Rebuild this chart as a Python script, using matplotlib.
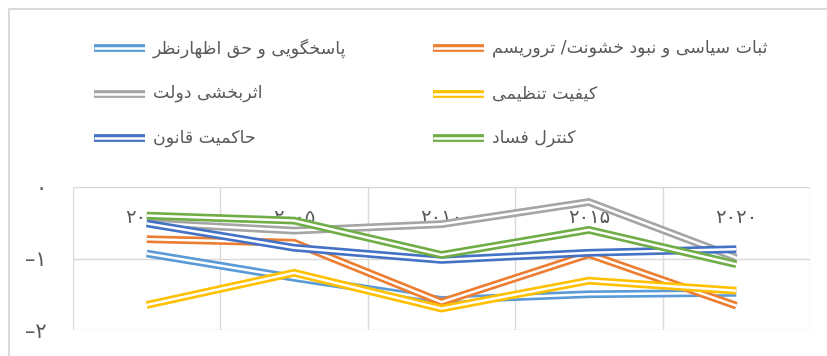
import matplotlib
matplotlib.use("Agg")
import matplotlib.pyplot as plt
import matplotlib.patheffects as pe
from matplotlib.lines import Line2D
from matplotlib.patches import Rectangle

# governance indicators, 2000-2020
years = [2000, 2005, 2010, 2015, 2020]

voice = [-0.93, -1.27, -1.58, -1.50, -1.48]          # پاسخگویی و حق اظهارنظر
stability = [-0.73, -0.78, -1.61, -0.94, -1.66]      # ثبات سیاسی ...
effectiveness = [-0.50, -0.61, -0.52, -0.21, -0.99]  # اثربخشی دولت
regulatory = [-1.65, -1.20, -1.70, -1.31, -1.45]     # کیفیت تنظیمی
rule_of_law = [-0.51, -0.85, -1.02, -0.92, -0.87]    # حاکمیت قانون
corruption = [-0.40, -0.47, -0.95, -0.60, -1.08]     # کنترل فساد

series_names = [
    "پاسخگویی و حق اظهارنظر",
    "اثربخشی دولت",
    "حاکمیت قانون",
    "ثبات سیاسی و نبود خشونت/ تروریسم",
    "کیفیت تنظیمی",
    "کنترل فساد",
]
series_values = [voice, effectiveness, rule_of_law, stability, regulatory, corruption]
series_colors = ["#5B9BD5", "#A5A5A5", "#4472C4", "#ED7D31", "#FFC000", "#70AD47"]
draw_order = [0, 3, 1, 4, 2, 5]

y_ticks = [0, -1, -2]

# --- minimal Persian shaping (matplotlib has no complex text layout) ---
DUAL = {
    'ب': 0xFE8F, 'ت': 0xFE95, 'ث': 0xFE99, 'ج': 0xFE9D, 'ح': 0xFEA1, 'خ': 0xFEA5,
    'س': 0xFEB1, 'ش': 0xFEB5, 'ص': 0xFEB9, 'ض': 0xFEBD, 'ط': 0xFEC1, 'ظ': 0xFEC5,
    'ع': 0xFEC9, 'غ': 0xFECD, 'ف': 0xFED1, 'ق': 0xFED5, 'ل': 0xFEDD, 'م': 0xFEE1,
    'ن': 0xFEE5, 'ه': 0xFEE9,
    'پ': 0xFB56, 'چ': 0xFB7A, 'ک': 0xFB8E, 'گ': 0xFB92, 'ی': 0xFBFC,
}
RIGHT = {'ا': 0xFE8D, 'آ': 0xFE81, 'د': 0xFEA9, 'ذ': 0xFEAB, 'ر': 0xFEAD,
         'ز': 0xFEAF, 'و': 0xFEED, 'ژ': 0xFB8A}


def shape(s):
    out = []
    for i, c in enumerate(s):
        prev = s[i - 1] if i > 0 else ''
        nxt = s[i + 1] if i + 1 < len(s) else ''
        joins_prev = prev in DUAL and (c in DUAL or c in RIGHT)
        if c in DUAL:
            joins_next = nxt in DUAL or nxt in RIGHT
            if joins_prev and joins_next:
                form = 3
            elif joins_prev:
                form = 1
            elif joins_next:
                form = 2
            else:
                form = 0
            out.append(chr(DUAL[c] + form))
        elif c in RIGHT:
            out.append(chr(RIGHT[c] + (1 if joins_prev else 0)))
        else:
            out.append(c)
    return ''.join(reversed(out))


FA_DIGITS = str.maketrans("0123456789-", "۰۱۲۳۴۵۶۷۸۹–")


def fa_num(v):
    return str(v).translate(FA_DIGITS)


# compound "double" line: coloured stroke with a white core
def double_line(color):
    return [pe.Stroke(linewidth=5.6, foreground=color, joinstyle='miter', capstyle='butt'),
            pe.Stroke(linewidth=1.8, foreground='white', joinstyle='miter', capstyle='butt')]


plt.rcParams['font.family'] = ['DejaVu Sans']
text_color = "#595959"
grid_color = "#d9d9d9"

W, H = 828, 356
fig = plt.figure(figsize=(W / 100, H / 100), dpi=100)

# chart area border
fig.add_artist(Rectangle((9 / W, -0.1), 1.2, 1 - 9 / H + 0.1, transform=fig.transFigure,
                         fill=False, ec=grid_color, lw=1.4))

ax = fig.add_axes([73 / W, 1 - 330 / H, (810 - 73) / W, (330 - 187) / H])
x = list(range(len(years)))

for idx in draw_order:
    ax.plot(x, series_values[idx], color=series_colors[idx], lw=5.6,
            solid_capstyle='butt', solid_joinstyle='miter',
            path_effects=double_line(series_colors[idx]))

ax.set_xlim(-0.5, len(years) - 0.5)
ax.set_ylim(-2, 0)
ax.set_yticks(y_ticks)
ax.set_yticklabels([fa_num(v) for v in y_ticks], fontsize=15, color=text_color)
ax.set_xticks([i - 0.5 for i in range(len(years) + 1)])
ax.set_xticklabels([])
ax.tick_params(length=0, pad=19)
ax.grid(True, color=grid_color, lw=1.0)
ax.set_axisbelow(True)
for sp in ax.spines.values():
    sp.set_visible(False)

# category labels sit under the horizontal axis crossing at zero
for i, yr in enumerate(years):
    ax.text(i, -0.42, fa_num(yr), ha='center', va='center', fontsize=14,
            color=text_color, zorder=1)

# legend, two columns
col_x = [94, 433]
row_y = [48, 93.5, 138]
for k, name in enumerate(series_names):
    cx = col_x[k // 3]
    ry = 1 - row_y[k % 3] / H
    fig.add_artist(Line2D([cx / W, (cx + 51) / W], [ry, ry], transform=fig.transFigure,
                          color=series_colors[k], lw=5.6, solid_capstyle='butt',
                          path_effects=double_line(series_colors[k])))
    fig.text((cx + 59) / W, ry, shape(name), ha='left', va='center', fontsize=12.5,
             color=text_color)

fig.savefig("out.png", dpi=100)
